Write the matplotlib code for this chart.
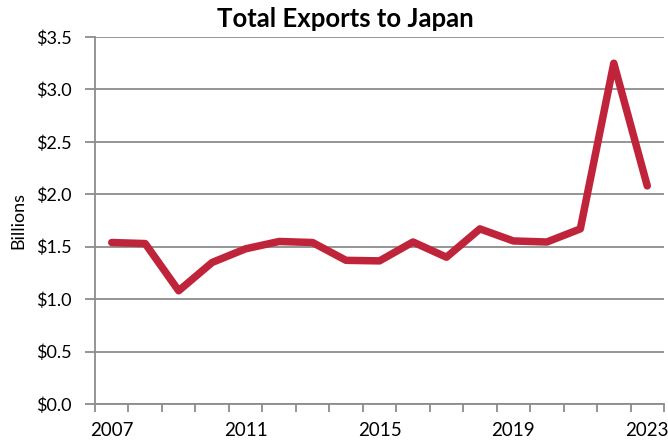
import numpy as np
import matplotlib
matplotlib.use("Agg")
import matplotlib.pyplot as plt
from matplotlib.ticker import FixedLocator, FuncFormatter

# ===== Data =====
YEARS = list(range(2007, 2024))
EXPORTS = [1.54, 1.53, 1.08, 1.35, 1.48, 1.55, 1.54, 1.37, 1.365,
           1.545, 1.40, 1.67, 1.555, 1.545, 1.67, 3.25, 2.08]
LABEL_YEARS = [2007, 2011, 2015, 2019, 2023]
Y_TICKS = [0.0, 0.5, 1.0, 1.5, 2.0, 2.5, 3.0, 3.5]
# ================

LINE_COLOR = "#C0243A"
GRID_COLOR = "#8c8c8c"

plt.rcParams["font.family"] = ["Lato", "DejaVu Sans"]

fig = plt.figure(figsize=(6.68, 4.46), dpi=100)
ax = fig.add_axes([95 / 668, 1 - 404 / 446, 569 / 668, 367 / 446])

x = np.arange(len(YEARS))
ax.plot(x, EXPORTS, color=LINE_COLOR, lw=5.4, solid_capstyle="round",
        solid_joinstyle="round", zorder=3)

ax.set_xlim(-0.5, len(YEARS) - 0.5)
ax.set_ylim(0, 3.5)

# category axis: ticks between categories, labels on every 4th year
ax.xaxis.set_major_locator(FixedLocator([YEARS.index(y) for y in LABEL_YEARS]))
ax.set_xticklabels([str(y) for y in LABEL_YEARS])
ax.xaxis.set_minor_locator(FixedLocator(np.arange(-0.5, len(YEARS), 1.0)))
ax.tick_params(axis="x", which="major", length=0, pad=13, labelsize=13.5)
ax.tick_params(axis="x", which="minor", length=6, width=1.3, color=GRID_COLOR)

ax.yaxis.set_major_locator(FixedLocator(Y_TICKS))
ax.yaxis.set_major_formatter(FuncFormatter(lambda v, _: f"${v:.1f}"))
ax.tick_params(axis="y", length=7, width=1.3, color=GRID_COLOR, pad=10,
               labelsize=13)

ax.grid(axis="y", color=GRID_COLOR, lw=1.3)
ax.set_axisbelow(True)

for side in ["top", "right"]:
    ax.spines[side].set_visible(False)
for side in ["left", "bottom"]:
    ax.spines[side].set_color(GRID_COLOR)
    ax.spines[side].set_linewidth(1.3)

ax.set_ylabel("Billions", fontsize=13, labelpad=7)
fig.text(345 / 668, 1 - 27 / 446, "Total Exports to Japan", ha="center",
         va="baseline", fontsize=18.5, fontweight="bold")

fig.savefig("out.png", dpi=100)
